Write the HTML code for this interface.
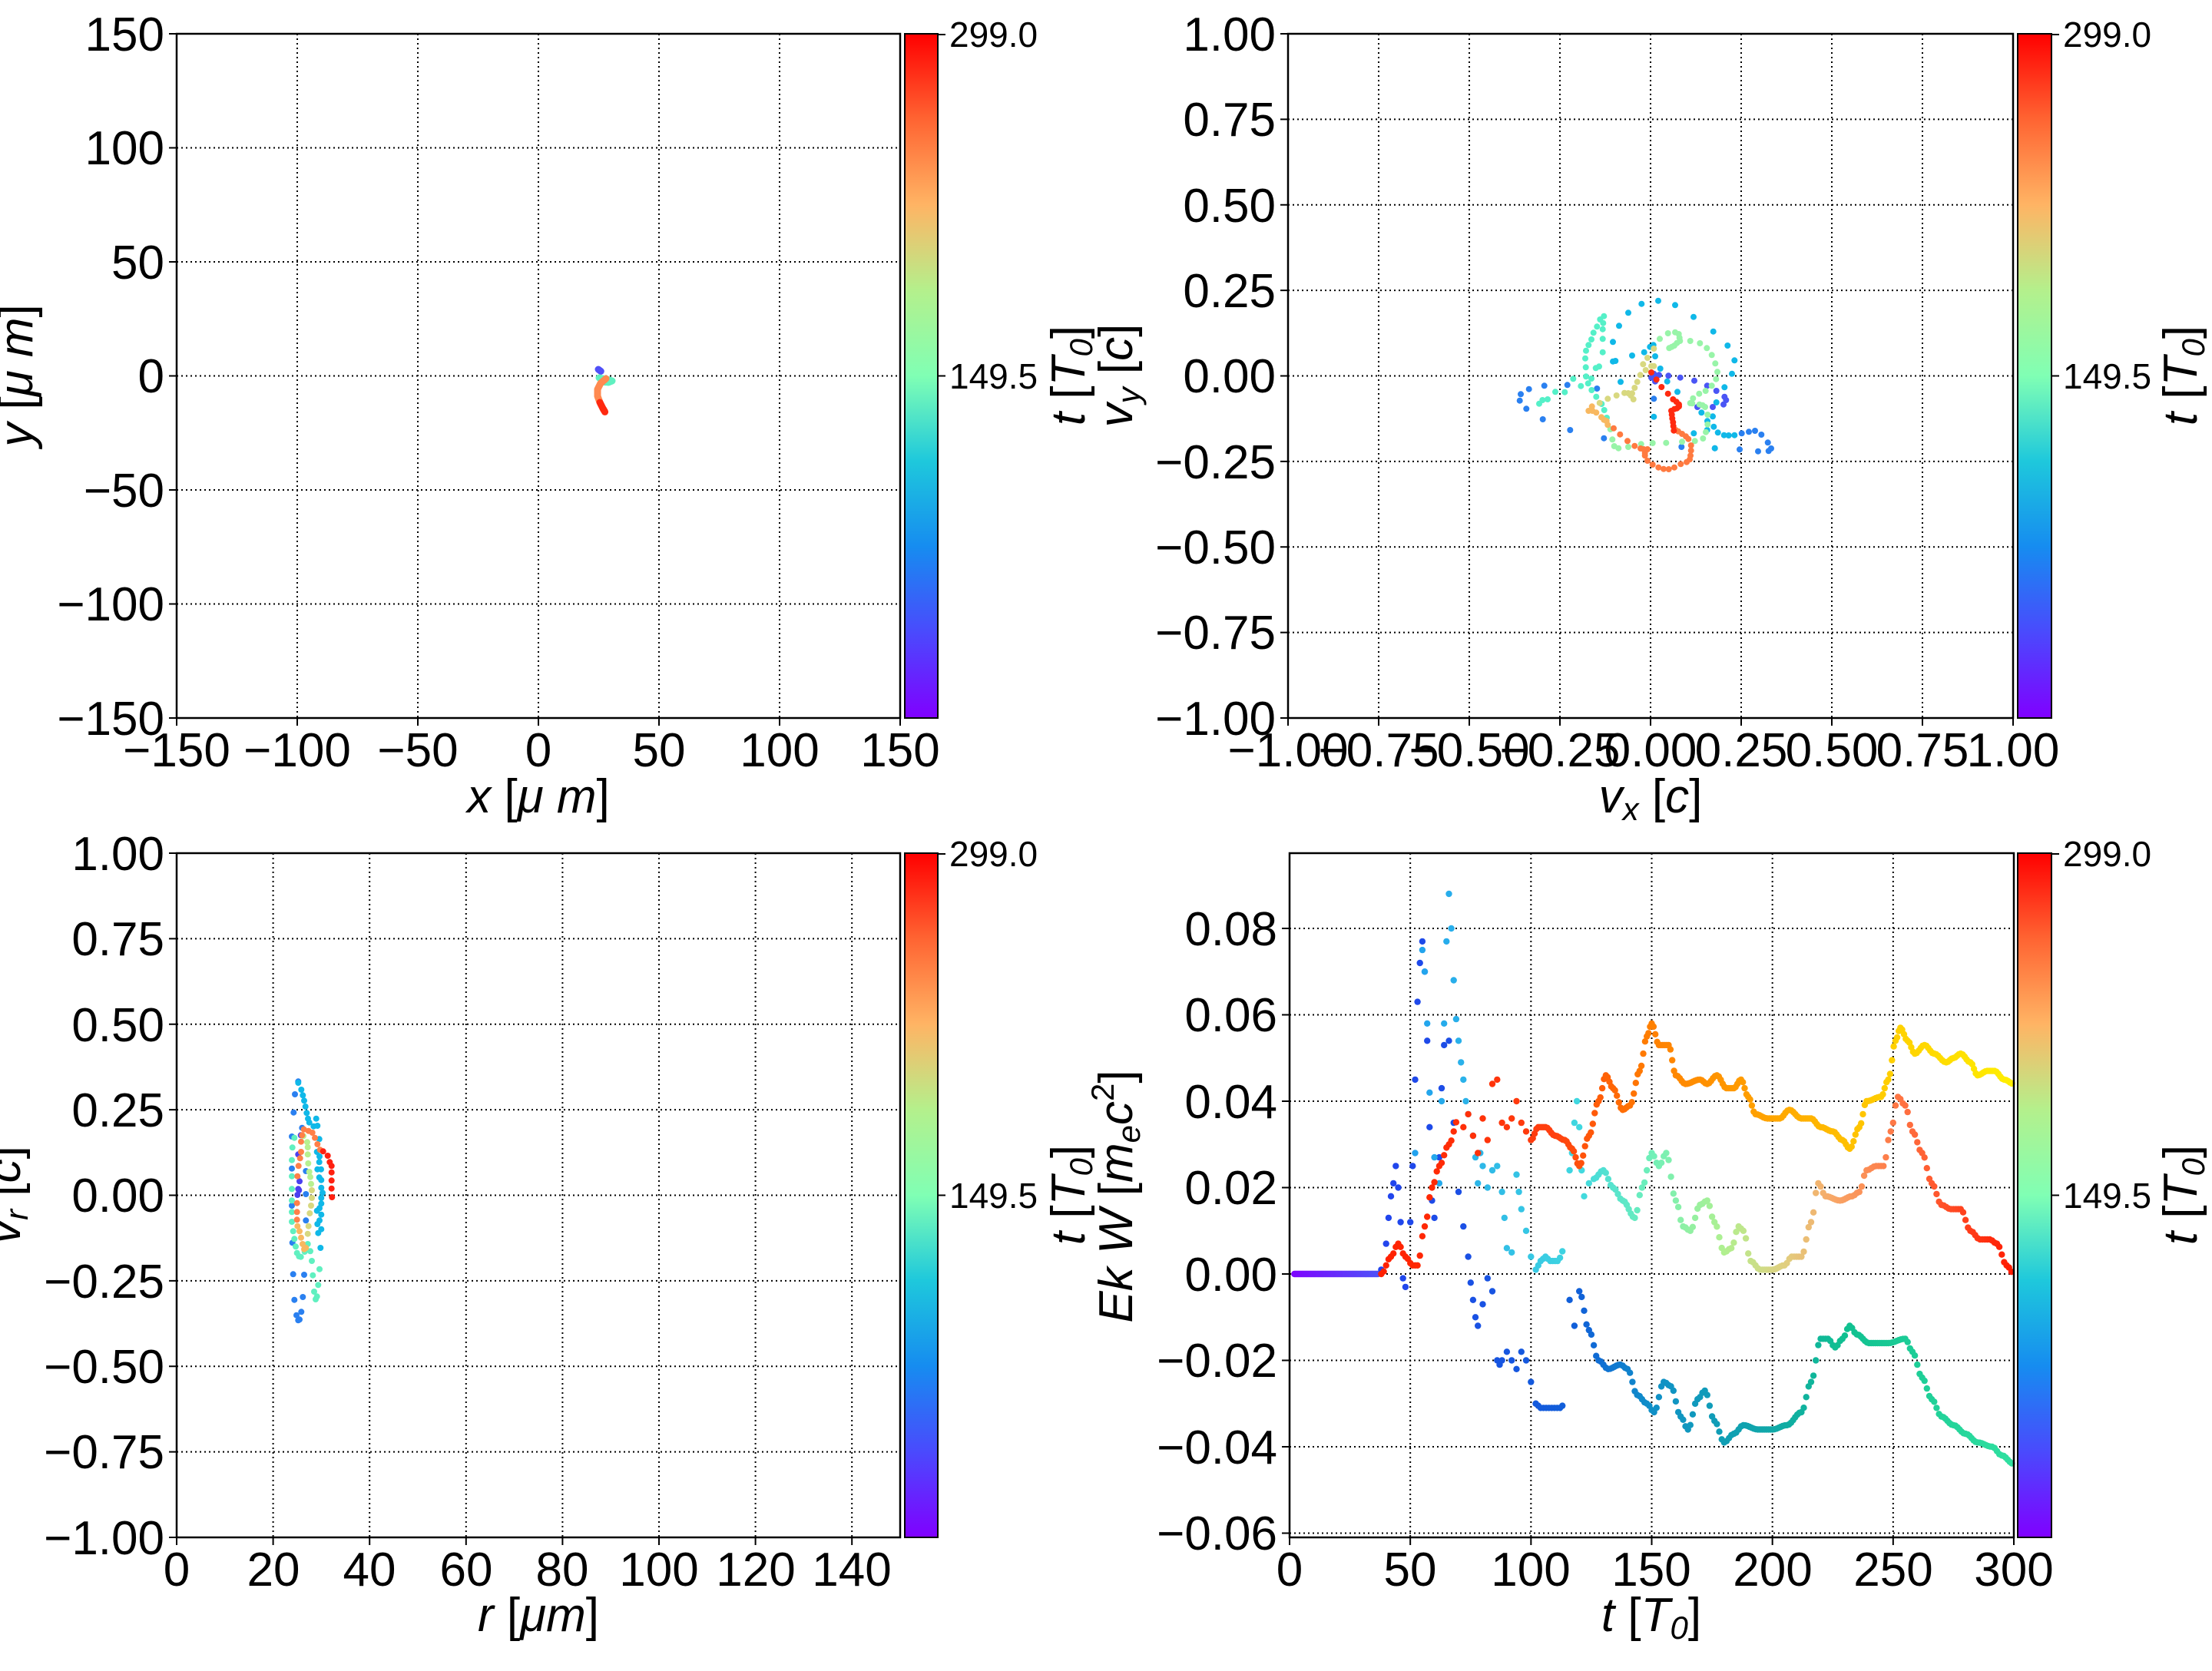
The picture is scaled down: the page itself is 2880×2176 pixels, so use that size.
<!DOCTYPE html>
<html><head><meta charset="utf-8"><style>
html,body{margin:0;padding:0;background:#fff;}
svg{display:block;}
text{font-family:"Liberation Sans","DejaVu Sans",sans-serif;fill:#000;}
.tk{font-size:62px;}
.cb{font-size:46px;}
.lb{font-size:62px;font-style:italic;}
</style></head><body>
<svg id="s" width="2880" height="2176" viewBox="0 0 2880 2176" xmlns="http://www.w3.org/2000/svg">
<defs>
<linearGradient id="rb" x1="0" y1="1" x2="0" y2="0">
<stop offset="0" stop-color="#8000ff"/><stop offset="0.125" stop-color="#4a4afd"/><stop offset="0.25" stop-color="#168cf0"/><stop offset="0.375" stop-color="#1ec8dc"/><stop offset="0.5" stop-color="#80ffb4"/><stop offset="0.625" stop-color="#b4f08c"/><stop offset="0.75" stop-color="#ffb464"/><stop offset="0.875" stop-color="#ff6432"/><stop offset="1" stop-color="#ff0000"/>
</linearGradient>
</defs>
<g id="grid"></g>
<g id="dots"></g>
<g id="frames"></g>

<rect x="1178" y="44" width="43" height="891" fill="url(#rb)" stroke="#000" stroke-width="2"/>
<rect x="2627" y="44" width="44" height="891" fill="url(#rb)" stroke="#000" stroke-width="2"/>
<rect x="1178" y="1111" width="43" height="891" fill="url(#rb)" stroke="#000" stroke-width="2"/>
<rect x="2627" y="1111" width="44" height="891" fill="url(#rb)" stroke="#000" stroke-width="2"/>
<g stroke="#000" stroke-width="2">
<line x1="1221" y1="45" x2="1231" y2="45"/><line x1="1221" y1="489.5" x2="1231" y2="489.5"/>
<line x1="2671" y1="45" x2="2681" y2="45"/><line x1="2671" y1="489.5" x2="2681" y2="489.5"/>
<line x1="1221" y1="1112" x2="1231" y2="1112"/><line x1="1221" y1="1556.5" x2="1231" y2="1556.5"/>
<line x1="2671" y1="1112" x2="2681" y2="1112"/><line x1="2671" y1="1556.5" x2="2681" y2="1556.5"/>
</g>
<g class="cb">
<text x="1236" y="61">299.0</text><text x="1236" y="506">149.5</text>
<text x="2686" y="61">299.0</text><text x="2686" y="506">149.5</text>
<text x="1236" y="1128">299.0</text><text x="1236" y="1573">149.5</text>
<text x="2686" y="1128">299.0</text><text x="2686" y="1573">149.5</text>
</g>
<g class="lb" text-anchor="middle">
<text transform="translate(1412,489) rotate(-90)"><tspan>t</tspan><tspan font-style="normal"> [</tspan>T<tspan font-size="42" dy="10">0</tspan><tspan font-style="normal" dy="-10">]</tspan></text>
<text transform="translate(2860,489) rotate(-90)"><tspan>t</tspan><tspan font-style="normal"> [</tspan>T<tspan font-size="42" dy="10">0</tspan><tspan font-style="normal" dy="-10">]</tspan></text>
<text transform="translate(1412,1556) rotate(-90)"><tspan>t</tspan><tspan font-style="normal"> [</tspan>T<tspan font-size="42" dy="10">0</tspan><tspan font-style="normal" dy="-10">]</tspan></text>
<text transform="translate(2860,1556) rotate(-90)"><tspan>t</tspan><tspan font-style="normal"> [</tspan>T<tspan font-size="42" dy="10">0</tspan><tspan font-style="normal" dy="-10">]</tspan></text>

<text transform="translate(42,489) rotate(-90)">y  <tspan font-style="normal">[</tspan>μ m<tspan font-style="normal">]</tspan></text>
<text transform="translate(1474,489) rotate(-90)">v<tspan font-size="42" dy="10">y</tspan><tspan dy="-10" font-style="normal"> [</tspan>c<tspan font-style="normal">]</tspan></text>
<text transform="translate(26,1556) rotate(-90)">v<tspan font-size="42" dy="10">r</tspan><tspan dy="-10" font-style="normal"> [</tspan>c<tspan font-style="normal">]</tspan></text>
<text transform="translate(1474,1558) rotate(-90)">Ek W <tspan font-style="normal">[</tspan>m<tspan font-size="42" dy="10">e</tspan><tspan dy="-10">c</tspan><tspan font-size="42" dy="-24" font-style="normal">2</tspan><tspan font-style="normal" dy="24">]</tspan></text>

<text x="701" y="1058">x  <tspan font-style="normal">[</tspan>μ m<tspan font-style="normal">]</tspan></text>
<text x="2149" y="1058">v<tspan font-size="42" dy="10">x</tspan><tspan dy="-10" font-style="normal"> [</tspan>c<tspan font-style="normal">]</tspan></text>
<text x="701" y="2124">r <tspan font-style="normal">[</tspan>μm<tspan font-style="normal">]</tspan></text>
<text x="2150" y="2124">t <tspan font-style="normal">[</tspan>T<tspan font-size="42" dy="10">0</tspan><tspan font-style="normal" dy="-10">]</tspan></text>
</g>

<g class="tk" text-anchor="end">
<text x="214" y="66">150</text><text x="214" y="214">100</text><text x="214" y="363">50</text><text x="214" y="511">0</text><text x="214" y="660">−50</text><text x="214" y="808">−100</text><text x="214" y="957">−150</text>
<text x="1661" y="66">1.00</text><text x="1661" y="177">0.75</text><text x="1661" y="289">0.50</text><text x="1661" y="400">0.25</text><text x="1661" y="511">0.00</text><text x="1661" y="623">−0.25</text><text x="1661" y="734">−0.50</text><text x="1661" y="845">−0.75</text><text x="1661" y="957">−1.00</text>
<text x="214" y="1133">1.00</text><text x="214" y="1244">0.75</text><text x="214" y="1356">0.50</text><text x="214" y="1467">0.25</text><text x="214" y="1578">0.00</text><text x="214" y="1690">−0.25</text><text x="214" y="1801">−0.50</text><text x="214" y="1912">−0.75</text><text x="214" y="2024">−1.00</text>
<text x="1663" y="1231">0.08</text><text x="1663" y="1343">0.06</text><text x="1663" y="1456">0.04</text><text x="1663" y="1568">0.02</text><text x="1663" y="1681">0.00</text><text x="1663" y="1793">−0.02</text><text x="1663" y="1906">−0.04</text><text x="1663" y="2018">−0.06</text>
</g>
<g class="tk" text-anchor="middle">
<text x="230" y="998">−150</text><text x="387" y="998">−100</text><text x="544" y="998">−50</text><text x="701" y="998">0</text><text x="858" y="998">50</text><text x="1015" y="998">100</text><text x="1172" y="998">150</text>
<text x="1677" y="998">−1.00</text><text x="1795" y="998">−0.75</text><text x="1913" y="998">−0.50</text><text x="2031" y="998">−0.25</text><text x="2149" y="998">0.00</text><text x="2267" y="998">0.25</text><text x="2385" y="998">0.50</text><text x="2503" y="998">0.75</text><text x="2621" y="998">1.00</text>
<text x="230" y="2065">0</text><text x="356" y="2065">20</text><text x="481" y="2065">40</text><text x="607" y="2065">60</text><text x="732" y="2065">80</text><text x="858" y="2065">100</text><text x="984" y="2065">120</text><text x="1109" y="2065">140</text>
<text x="1679" y="2065">0</text><text x="1836" y="2065">50</text><text x="1993" y="2065">100</text><text x="2150" y="2065">150</text><text x="2308" y="2065">200</text><text x="2465" y="2065">250</text><text x="2622" y="2065">300</text>
</g>
</svg>
<script>
const NS="http://www.w3.org/2000/svg";
function el(n,a,p){const e=document.createElementNS(NS,n);for(const k in a)e.setAttribute(k,a[k]);p.appendChild(e);return e;}
const G=document.getElementById('grid'),D=document.getElementById('dots'),F=document.getElementById('frames');
function panel(L,R,T,B,xs,ys){
  xs.forEach(x=>{el('line',{x1:x,y1:T,x2:x,y2:B,stroke:'#000','stroke-width':2,'stroke-dasharray':'2,4'},G);el('line',{x1:x,y1:B,x2:x,y2:B+10,stroke:'#000','stroke-width':2},F);});
  ys.forEach(y=>{el('line',{x1:L,y1:y,x2:R,y2:y,stroke:'#000','stroke-width':2,'stroke-dasharray':'2,4'},G);el('line',{x1:L-10,y1:y,x2:L,y2:y,stroke:'#000','stroke-width':2},F);});
  el('rect',{x:L,y:T,width:R-L,height:B-T,fill:'none',stroke:'#000','stroke-width':2.5},F);
}
function seq(a,b,n){const r=[];for(let i=0;i<n;i++)r.push(a+(b-a)*i/(n-1));return r;}
panel(230,1172,44,935,seq(230,1172,7),seq(44,935,7));
panel(1677,2621,44,935,seq(1677,2621,9),seq(44,935,9));
panel(230,1172,1111,2002,seq(230,1109.2,8),seq(1111,2002,9));
panel(1679,2622,1111,2002,seq(1679,2622,7),[1209,1321.5,1434,1546.5,1659,1771.5,1884,1996.5]);
function dot(x,y,c,r){el('circle',{cx:x.toFixed(1),cy:y.toFixed(1),r:r||4,fill:c},D);}
function hex(h){return [parseInt(h.substr(1,2),16),parseInt(h.substr(3,2),16),parseInt(h.substr(5,2),16)];}
function cstop(stops,t){if(t<=stops[0][0])return stops[0][1];for(let i=1;i<stops.length;i++){if(t<=stops[i][0]){const f=(t-stops[i-1][0])/(stops[i][0]-stops[i-1][0]);const a=hex(stops[i-1][1]),b=hex(stops[i][1]);return 'rgb('+a.map((v,k)=>Math.round(v+(b[k]-v)*f)).join(',')+')';}}return stops[stops.length-1][1];}
function pathDots(pts,col,n,r){for(let i=0;i<pts.length-1;i++){for(let j=0;j<n;j++){const f=j/n;dot(pts[i][0]+(pts[i+1][0]-pts[i][0])*f,pts[i][1]+(pts[i+1][1]-pts[i][1])*f,col,r);}}}
pathDots([[779,481],[783,484]],'#5050f8',6,4.5);
pathDots([[780,492],[790,494],[797,496],[792,498],[781,497]],'#60f0c0',6,4.5);
pathDots([[789,493],[782,499],[778,507],[778,516],[781,524]],'#ff8a50',8,4.5);
pathDots([[781,524],[785,532],[788,537]],'#ff2a10',8,4.5);
const p2=[
['#2a80f0',[[240,640],[236,665],[262,697],[272,620],[332,607],[326,738],[433,780],[422,604],[538,618],[565,812],[760,658],[868,846],[998,851],[1095,856],[1167,863],[1208,862],[1218,852],[1205,829],[1180,798],[1155,783],[1131,787],[1103,793]]],
['#4a55f5',[[1004,627],[1036,650],[1042,663],[1032,680],[968,607],[918,587],[863,575],[817,568],[930,690],[990,690],[760,560],[770,570],[750,575],[765,590],[780,565]]],
['#10b8e8',[[1075,800],[1052,801],[1034,800],[1010,790],[994,767],[990,727],[1004,672],[1036,613],[712,287],[777,275],[843,292],[915,338],[992,395],[1048,450],[1075,508],[1065,560],[660,322],[624,373],[600,436],[675,489],[600,512],[610,510],[630,592],[722,476],[745,455],[758,448],[765,492],[785,540],[812,590],[852,631],[760,728],[916,793],[946,712],[969,745],[968,780],[998,851]]],
['#55f0c8',[[565,335],[550,348],[562,362],[538,376],[560,386],[524,400],[516,426],[560,424],[505,448],[495,470],[560,476],[492,500],[494,535],[533,538],[546,532],[495,571],[516,579],[503,598],[475,608],[445,580],[412,632],[375,631],[345,660],[325,663],[312,677],[517,624],[535,650],[556,678],[566,702],[576,732]]],
['#98f4a8',[[590,777],[598,817],[605,843],[622,851],[660,846],[710,835],[755,831],[808,830],[870,826],[920,823],[952,813],[963,788],[970,758],[970,720],[960,690],[950,683],[938,680],[910,676],[902,675],[913,656],[937,638],[962,627],[986,607],[1003,581],[1008,553],[1000,520],[986,487],[967,460],[940,441],[902,432],[862,432],[857,405],[843,398],[815,402],[783,424],[820,460],[840,450],[830,455],[850,440],[860,420]]],
['#d8d880',[[760,462],[735,498],[718,523],[728,546],[760,530],[750,530],[707,565],[695,592],[685,615],[675,637],[660,636],[645,635],[680,660],[670,645],[614,645],[580,658],[548,674]]],
['#f8b860',[[518,688],[505,705],[520,705],[535,712],[555,730],[565,740],[575,745],[580,760]]],
['#ff7a40',[[603,773],[628,797],[657,823],[685,842],[708,852],[720,855],[735,855],[725,870],[725,880],[735,900],[755,915],[778,926],[798,932],[818,933],[840,926],[865,913],[888,905],[900,895],[903,880],[905,860],[905,840],[895,815],[885,805],[870,795],[855,785],[845,780]]],
['#ff2a10',[[838,782],[836,765],[835,750],[832,735],[830,720],[828,705],[840,698],[850,695],[858,688],[858,680],[848,670],[835,660],[815,638],[790,612],[770,583],[750,555]]]
];
p2.forEach(g=>g[1].forEach(p=>dot(1900+p[0]/3,300+p[1]/3,g[0],4)));
const p3=[
['#2a80f0',[[175,175],[162,225],[157,296],[190,356],[150,390],[150,515],[205,525],[205,615],[150,660],[205,718],[152,805],[155,928],[198,930],[160,1028],[193,1017],[168,1088],[187,1075],[175,1108],[180,1105]]],
['#4a40f0',[[172,618],[178,600],[175,595],[185,385],[175,460],[180,565]]],
['#10b8e8',[[175,180],[187,207],[193,229],[198,250],[203,273],[208,298],[213,320],[218,335],[245,320],[250,348],[235,350],[257,400],[248,450],[258,468],[257,490],[250,518],[264,518],[257,550],[265,560],[265,590],[270,610],[265,630],[265,652],[258,670],[248,680],[265,695],[258,718],[250,732],[265,752],[253,767],[262,825]]],
['#60f0c0',[[160,395],[152,433],[150,482],[150,545],[150,595],[150,640],[150,685],[150,723],[155,760],[160,790],[165,820],[170,845],[178,858],[185,860],[200,840],[212,810],[222,838],[228,876],[258,908],[232,932],[253,970],[237,996],[243,1026],[248,1015]]],
['#b8f090',[[195,388],[210,412],[212,432],[212,460],[214,495],[218,528],[222,548],[225,575]]],
['#d8d880',[[228,600],[228,630],[225,660],[220,690],[215,740],[212,770]]],
['#f8b860',[[172,740],[180,760],[186,785],[192,810],[198,830],[205,825]]],
['#ff8048',[[170,650],[170,685],[170,715],[172,545],[176,505],[182,475],[186,450],[186,410],[190,385],[197,362],[215,368],[230,375],[240,395],[250,420],[260,442]]],
['#ff2010',[[272,448],[290,465],[298,490],[305,505],[305,530],[305,562],[305,593],[307,627]]]
];
p3.forEach(g=>g[1].forEach(p=>dot(330+p[0]/3,1350+p[1]/3,g[0],4)));
function X4(t){return 1679+t*943/300;} function Y4(v){return 1659-v*5625;}
function curve(keys,step,stops){for(let i=0;i<keys.length-1;i++){const [t0,v0]=keys[i],[t1,v1]=keys[i+1];const n=Math.max(1,Math.round((t1-t0)/step));for(let j=0;j<n;j++){const f=j/n,s=(1-Math.cos(Math.PI*f))/2;const t=t0+(t1-t0)*f,v=v0+(v1-v0)*s;dot(X4(t),Y4(v),cstop(stops,t),4.2);}}}
function sparse(pts,stops){pts.forEach(p=>dot(X4(p[0]),Y4(p[1]),cstop(stops,p[0]),4.2));}
curve([[2,0],[37,0]],0.4,[[0,'#8000ff'],[37,'#5050f8']]);
const SA=[[38,'#2244ee'],[120,'#1060d8'],[150,'#1090c8'],[200,'#10a8a8'],[230,'#10c090'],[300,'#30e0a0']];
sparse([[38,0.001],[40,0.007],[41,0.013],[42,0.018],[43,0.021],[44,0.025],[45,0.02],[46,0.012],[47,-0.001],[48,-0.003],[50,0.012],[51,0.025],[52,0.045],[53,0.063],[54,0.072],[55,0.077],[56,0.07],[57,0.054],[58,0.034],[59,0.017],[60,0.013],[62,0.027],[63,0.043],[64,0.053],[66,0.054],[68,0.035],[70,0.019],[72,0.011],[74,0.004],[75,-0.002],[76,-0.006],[77,-0.01],[78,-0.012],[80,-0.007],[82,-0.001],[84,-0.004],[86,-0.02],[87,-0.021],[88,-0.02],[90,-0.018],[92,-0.02],[94,-0.022],[96,-0.018],[98,-0.02],[100,-0.025],[102,-0.03],[116,-0.006],[118,-0.012]],SA);
curve([[102,-0.030],[104,-0.031],[112,-0.031],[114,-0.03]],1.2,SA);
curve([[120,-0.004],[124,-0.013],[128,-0.02],[132,-0.022],[137,-0.021],[140,-0.022],[144,-0.028],[148,-0.03],[151,-0.032],[155,-0.025],[158,-0.026],[162,-0.033],[165,-0.036],[169,-0.029],[172,-0.027],[176,-0.034],[180,-0.039],[184,-0.037],[188,-0.035],[194,-0.036],[200,-0.036],[206,-0.035],[212,-0.032],[216,-0.025],[220,-0.015],[223,-0.015],[226,-0.017],[229,-0.015],[232,-0.012],[235,-0.014],[240,-0.016],[248,-0.016],[255,-0.015],[258,-0.018],[262,-0.024],[266,-0.029],[270,-0.033],[275,-0.035],[280,-0.037],[285,-0.039],[291,-0.040],[295,-0.042],[300,-0.044]],0.9,SA);
const SB=[[50,'#20a0ee'],[120,'#40d8e0'],[150,'#70f0b8'],[180,'#b0f090'],[205,'#e0d080'],[225,'#f8a868'],[255,'#ff7040'],[300,'#ff1a00']];
sparse([[52,0.028],[55,0.075],[56,0.07],[57,0.058],[58,0.042],[60,0.027],[62,0.021],[63,0.04],[64,0.058],[65,0.077],[66,0.088],[67,0.08],[68,0.068],[69,0.059],[70,0.054],[71,0.049],[72,0.045],[73,0.04],[74,0.037],[76,0.032],[77,0.027],[78,0.021],[79,0.028],[80,0.025],[82,0.02],[84,0.024],[86,0.025],[88,0.019],[89,0.013],[90,0.006],[92,0.005],[94,0.023],[95,0.019],[96,0.015],[98,0.01],[100,0.004],[116,0.024],[117,0.028],[118,0.035],[119,0.04],[120,0.034],[121,0.024],[122,0.018],[124,0.021]],SB);
curve([[102,0.001],[104,0.003],[106,0.004],[108,0.003],[111,0.003],[114,0.006]],1,SB);
curve([[126,0.022],[130,0.024],[134,0.02],[138,0.017],[143,0.013],[146,0.02],[150,0.028],[153,0.025],[156,0.028],[160,0.017],[163,0.011],[166,0.010],[170,0.016],[173,0.017],[176,0.012],[180,0.005],[183,0.006],[186,0.011],[188,0.010],[191,0.003],[195,0.001],[200,0.001],[205,0.002],[208,0.004],[212,0.004],[216,0.012],[219,0.021],[222,0.018],[228,0.017],[233,0.018],[236,0.019],[239,0.024],[243,0.025],[246,0.025],[249,0.033],[252,0.041],[255,0.039],[258,0.033],[262,0.028],[266,0.021],[270,0.016],[274,0.015],[278,0.015],[282,0.01],[286,0.008],[290,0.008],[293,0.007],[297,0.002],[300,0.0]],0.9,SB);
const SC=[[38,'#ff2000'],[110,'#ff4010'],[150,'#ff8000'],[200,'#ffa500'],[250,'#ffd000'],[300,'#ffee00']];
curve([[38,0],[42,0.004],[45,0.007],[48,0.004],[51,0.002],[53,0.002],[56,0.011],[59,0.02],[62,0.025],[66,0.03],[70,0.036]],0.9,SC);
sparse([[72,0.034],[74,0.037],[76,0.032],[78,0.028],[80,0.036],[82,0.031],[84,0.044],[86,0.045],[88,0.035],[90,0.034],[92,0.036],[94,0.04],[96,0.035],[98,0.033]],SC);
curve([[100,0.031],[103,0.034],[106,0.034],[110,0.032],[114,0.031],[117,0.029],[120,0.025],[124,0.032],[128,0.04],[131,0.046],[134,0.043],[138,0.038],[141,0.039],[145,0.047],[148,0.055],[150,0.058],[153,0.053],[157,0.053],[160,0.046],[164,0.044],[170,0.045],[173,0.044],[177,0.046],[181,0.043],[184,0.043],[187,0.045],[190,0.041],[193,0.037],[198,0.036],[203,0.036],[207,0.038],[212,0.036],[216,0.036],[220,0.034],[225,0.033],[229,0.031],[232,0.029],[236,0.034],[239,0.04],[245,0.041],[248,0.045],[251,0.054],[253,0.057],[256,0.054],[259,0.051],[263,0.053],[267,0.051],[272,0.049],[275,0.05],[278,0.051],[282,0.049],[285,0.046],[289,0.047],[292,0.047],[296,0.045],[300,0.044]],0.8,SC);
</script>
</body></html>
